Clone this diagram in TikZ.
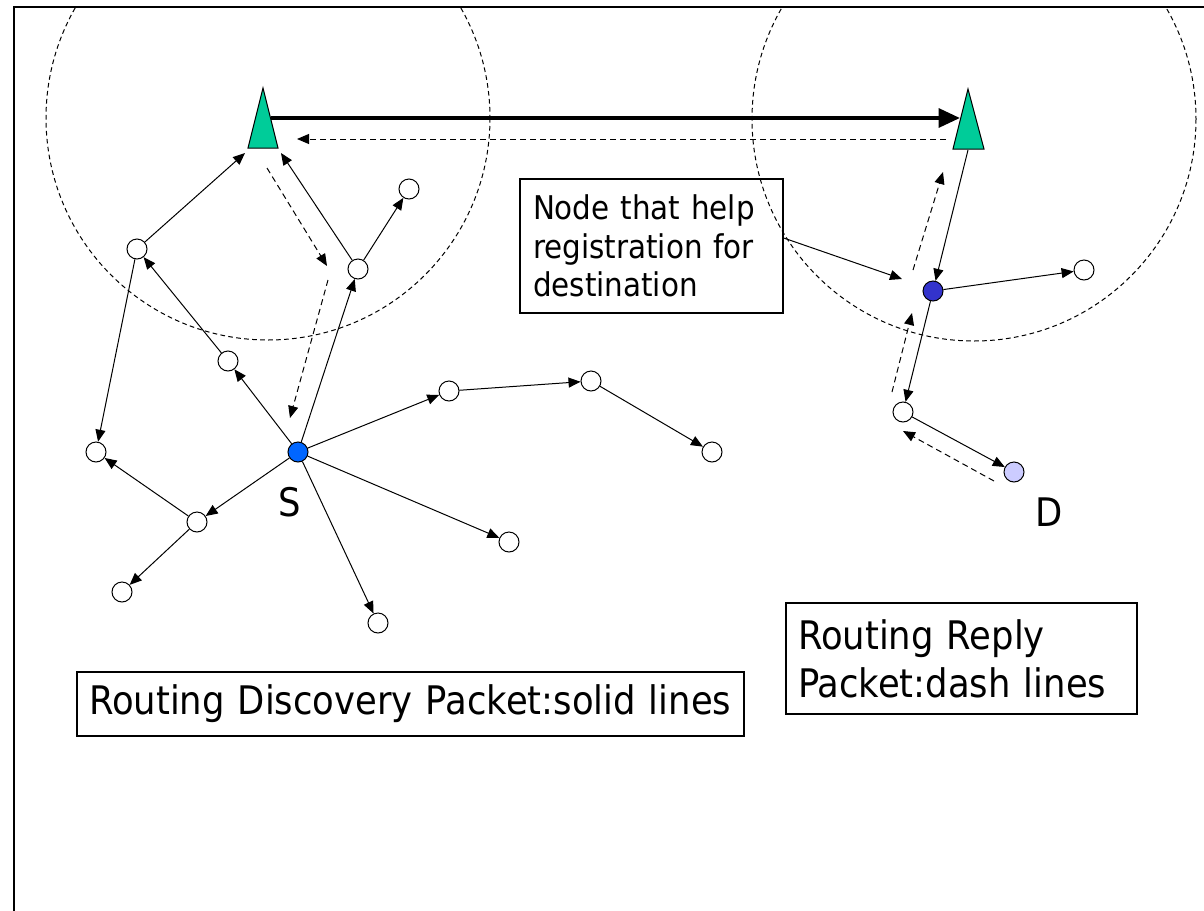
\documentclass[tikz,border=0pt]{standalone}
\usepackage{fontspec}
\setmainfont{DejaVu Sans}[FakeStretch=0.9]
\usetikzlibrary{arrows.meta}
\definecolor{tgreen}{RGB}{0,204,153}
\definecolor{sblue}{RGB}{0,102,255}
\definecolor{nblue}{RGB}{51,51,204}
\definecolor{dlav}{RGB}{204,204,255}
\begin{document}
\begin{tikzpicture}[x=0.75pt,y=-0.75pt,
  nd/.style={circle, draw, line width=0.75pt, minimum size=15pt, inner sep=0pt, fill=white},
  arr/.style={-{Triangle[length=9pt,width=7.5pt]}, line width=0.75pt},
  darr/.style={arr, dash pattern=on 4.5pt off 3pt},
  ring/.style={draw, dash pattern=on 3.5pt off 2.5pt, line width=0.75pt},
  tri/.style={draw, fill=tgreen, line width=0.75pt},
  txtbox/.style={draw, line width=1pt, align=left, inner ysep=0pt},
  lab/.style={inner sep=0pt, font=\fontsize{29.5}{36}\selectfont}
]
\useasboundingbox[fill=white] (0,0) rectangle (1204,911);
% frame
\draw[line width=1.5pt] (14,915) -- (14,7) -- (1210,7);
% dashed ranges
\begin{scope}
  \clip (14,7) rectangle (1204,911);
  \draw[ring] (268,118) circle[radius=222];
  \draw[ring] (974,119) circle[radius=222];
\end{scope}
% triangles (access points)
\draw[tri] (263,88) -- (278,148) -- (248,148) -- cycle;
\draw[tri] (968,89) -- (984,149) -- (953,149) -- cycle;
\coordinate (TLa) at (245,153);
\coordinate (TLb) at (281,153);
\coordinate (TLr) at (271,118);
\coordinate (TLd) at (297,139);
\coordinate (TRl) at (960,118);
\coordinate (TRd) at (946,139);
\coordinate (TRb) at (968,150);
% nodes
\node[nd] (A) at (137,249) {};
\node[nd] (B) at (358,269) {};
\node[nd] (C) at (409,189) {};
\node[nd] (E) at (228,361) {};
\node[nd, fill=sblue] (S) at (298,452) {};
\node[nd] (F) at (96,452) {};
\node[nd] (G) at (197,522) {};
\node[nd] (H) at (122,592) {};
\node[nd] (I) at (378,623) {};
\node[nd] (J) at (509,542) {};
\node[nd] (K) at (449,391) {};
\node[nd] (L) at (591,381) {};
\node[nd] (M) at (712,452) {};
\node[nd, fill=nblue] (N) at (933,291) {};
\node[nd] (O) at (1084,270) {};
\node[nd] (P) at (903,412) {};
\node[nd, fill=dlav] (D) at (1014,472) {};
\node[lab] (Slab) at (290,502) {S};
\node[lab] (Dlab) at (1049,512) {D};
% text boxes
\node[txtbox, text width=177.75pt, inner xsep=9.75pt, minimum height=100.5pt,
  font=\fontsize{24.5}{29}\selectfont] (box1) at (651.5,246)
  {Node that help\\registration for\\destination};
\node[txtbox, text width=245.25pt, inner xsep=9pt, minimum height=83.25pt,
  font=\fontsize{29.5}{36}\selectfont] (box2) at (961.5,658.5)
  {Routing Reply\\Packet:dash lines};
\node[txtbox, text width=482.25pt, inner xsep=9pt, minimum height=48pt,
  font=\fontsize{29.5}{36}\selectfont] (box3) at (410.5,704)
  {Routing Discovery Packet:solid lines};
% thick link between access points
\draw[line width=3pt, -{Triangle[length=16pt,width=14pt]}] (TLr) -- (TRl);
\draw[darr] (TRd) -- (TLd);
% discovery (solid)
\draw[arr] (A) -- (TLa);
\draw[arr] (B) -- (TLb);
\draw[arr] (B) -- (C);
\draw[arr] (A) -- (F);
\draw[arr] (S) -- (E);
\draw[arr] (E) -- (A);
\draw[arr] (S) -- (B);
\draw[arr] (S) -- (K);
\draw[arr] (K) -- (L);
\draw[arr] (L) -- (M);
\draw[arr] (S) -- (J);
\draw[arr] (S) -- (I);
\draw[arr] (S) -- (G);
\draw[arr] (G) -- (F);
\draw[arr] (G) -- (H);
\draw[arr] (TRb) -- (N);
\draw[arr] (N) -- (O);
\draw[arr] (N) -- (P);
\draw[arr] (P) -- (D);
\draw[arr] ([yshift=6pt]box1.east) -- (902,279);
% reply (dashed)
\coordinate (r1s) at (267,168); \coordinate (r1e) at (327,266);
\coordinate (r2s) at (328,280); \coordinate (r2e) at (290,418);
\coordinate (r3s) at (994,481); \coordinate (r3e) at (903,431);
\coordinate (r4s) at (892,392); \coordinate (r4e) at (912,313);
\coordinate (r5s) at (913,270); \coordinate (r5e) at (943,172);
\draw[darr] (r1s) -- (r1e);
\draw[darr] (r2s) -- (r2e);
\draw[darr] (r3s) -- (r3e);
\draw[darr] (r4s) -- (r4e);
\draw[darr] (r5s) -- (r5e);
\end{tikzpicture}
\end{document}
